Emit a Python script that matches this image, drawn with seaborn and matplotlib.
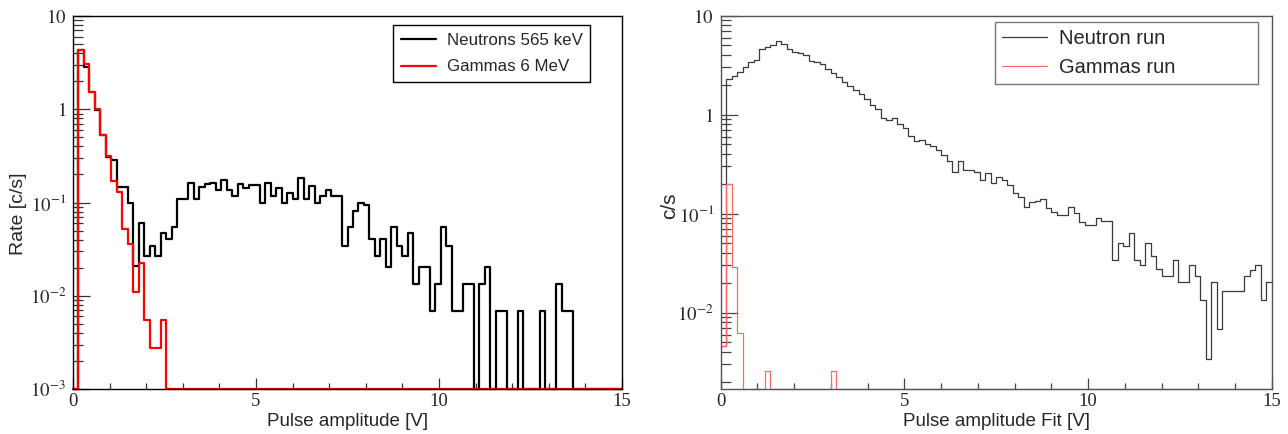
import numpy as np
import matplotlib
matplotlib.use("Agg")
import matplotlib.pyplot as plt
import seaborn as sns
from matplotlib.ticker import MultipleLocator, LogLocator, NullFormatter, FuncFormatter

# ---------------- data (rates per 0.15 V bin, 0 .. 15 V) ----------------
BIN_WIDTH = 0.15

left_neutrons = [
    0, 4.33, 2.87, 1.52, 0.98, 0.53, 0.307, 0.287, 0.148, 0.148,
    0.1, 0.0206, 0.061, 0.0268, 0.0344, 0.0268, 0.0476, 0.0405, 0.0545, 0.109,
    0.109, 0.161, 0.109, 0.148, 0.157, 0.161, 0.137, 0.175, 0.137, 0.116,
    0.157, 0.143, 0.155, 0.155, 0.1, 0.161, 0.116, 0.143, 0.1, 0.128,
    0.109, 0.182, 0.109, 0.151, 0.1, 0.116, 0.137, 0.116, 0.116, 0.0338,
    0.0545, 0.082, 0.1, 0.0945, 0.0405, 0.0268, 0.0405, 0.0203, 0.0545, 0.0338,
    0.0268, 0.0469, 0.0134, 0.0203, 0.0203, 0.0068, 0.0134, 0.0545, 0.0338, 0.0068,
    0.0068, 0.0134, 0.0134, 0, 0.0134, 0.0203, 0, 0.0068, 0.0068, 0,
    0, 0.0068, 0, 0, 0, 0.0068, 0, 0, 0.0134, 0.0068,
    0.0068, 0, 0, 0, 0, 0, 0, 0, 0, 0,
]
left_gammas = [
    0, 4.33, 3.04, 1.52, 1.01, 0.53, 0.316, 0.171, 0.131, 0.0519,
    0.0358, 0.0111, 0.0222, 0.00553, 0.00275, 0.00275, 0.00553, 0, 0, 0,
    0, 0, 0, 0, 0, 0, 0, 0, 0, 0,
    0, 0, 0, 0, 0, 0, 0, 0, 0, 0,
    0, 0, 0, 0, 0, 0, 0, 0, 0, 0,
    0, 0, 0, 0, 0, 0, 0, 0, 0, 0,
    0, 0, 0, 0, 0, 0, 0, 0, 0, 0,
    0, 0, 0, 0, 0, 0, 0, 0, 0, 0,
    0, 0, 0, 0, 0, 0, 0, 0, 0, 0,
    0, 0, 0, 0, 0, 0, 0, 0, 0, 0,
]
right_neutron = [
    0.0046, 2.28, 2.44, 2.70, 3.03, 3.40, 3.59, 4.64, 4.82, 5.01,
    5.54, 5.21, 4.64, 4.30, 4.20, 3.97, 3.48, 3.40, 3.23, 2.92,
    2.64, 2.40, 2.14, 1.93, 1.79, 1.63, 1.45, 1.24, 1.15, 0.915,
    0.893, 0.936, 0.813, 0.741, 0.606, 0.543, 0.552, 0.503, 0.480, 0.444,
    0.389, 0.341, 0.264, 0.341, 0.275, 0.279, 0.264, 0.221, 0.258, 0.202,
    0.232, 0.221, 0.194, 0.160, 0.148, 0.116, 0.132, 0.135, 0.142, 0.113,
    0.104, 0.0966, 0.0966, 0.117, 0.102, 0.0827, 0.0766, 0.0766, 0.0907, 0.0843,
    0.0843, 0.034, 0.050, 0.047, 0.064, 0.034, 0.0303, 0.050, 0.0373, 0.0274,
    0.0236, 0.0236, 0.034, 0.0202, 0.0202, 0.0303, 0.0236, 0.0134, 0.00338, 0.0202,
    0.00678, 0.0166, 0.0166, 0.0166, 0.0166, 0.0236, 0.0269, 0.0303, 0.0134, 0.0202,
]
right_gammas = [
    0.0046, 0.199, 0.029, 0.00618, 0, 0, 0, 0, 0.00258, 0,
    0, 0, 0, 0, 0, 0, 0, 0, 0, 0,
    0.00258, 0, 0, 0, 0, 0, 0, 0, 0, 0,
    0, 0, 0, 0, 0, 0, 0, 0, 0, 0,
    0, 0, 0, 0, 0, 0, 0, 0, 0, 0,
    0, 0, 0, 0, 0, 0, 0, 0, 0, 0,
    0, 0, 0, 0, 0, 0, 0, 0, 0, 0,
    0, 0, 0, 0, 0, 0, 0, 0, 0, 0,
    0, 0, 0, 0, 0, 0, 0, 0, 0, 0,
    0, 0, 0, 0, 0, 0, 0, 0, 0, 0,
]

left_labels = ["Neutrons 565 keV", "Gammas 6 MeV"]
right_labels = ["Neutron run", "Gammas run"]
x_title_left = "Pulse amplitude [V]"
x_title_right = "Pulse amplitude Fit [V]"
y_title_left = "Rate [c/s]"
y_title_right = "c/s"

LEFT_YLIM = (1e-3, 10)
RIGHT_YLIM = (0.00169, 10)

# ---------------- style ----------------
sns.set_theme(style="ticks")
plt.rcParams["font.family"] = ["Liberation Sans", "DejaVu Sans"]
plt.rcParams["mathtext.fontset"] = "stix"
plt.rcParams["axes.linewidth"] = 1.0


def draw_hist(ax, values, color, lw, floor, label):
    vals = np.asarray(values, dtype=float)
    shown = np.where(vals > 0, vals, floor)
    edges = np.arange(len(vals) + 1) * BIN_WIDTH
    y = np.append(shown, shown[-1])
    sns.lineplot(x=edges, y=y, ax=ax, color=color, lw=lw,
                 drawstyle="steps-post", estimator=None, sort=False,
                 label=label, clip_on=False)


def log_label(v, pos):
    e = int(round(np.log10(v)))
    if e == 0:
        return r"$1$"
    if e == 1:
        return r"$10$"
    return r"$10^{%d}$" % e


def style_axes(ax, ylim, spine_color, tick_color):
    ax.set_xlim(0, 15)
    ax.set_ylim(*ylim)
    ax.xaxis.set_major_locator(MultipleLocator(5))
    ax.xaxis.set_minor_locator(MultipleLocator(1))
    ax.yaxis.set_major_locator(LogLocator(base=10, numticks=10))
    ax.yaxis.set_minor_locator(LogLocator(base=10, subs=np.arange(2, 10), numticks=40))
    ax.yaxis.set_minor_formatter(NullFormatter())
    ax.yaxis.set_major_formatter(FuncFormatter(log_label))
    ax.tick_params(which="both", direction="in", top=False, right=False,
                   color=tick_color, width=0.9, labelsize=13.5,
                   labelfontfamily="Liberation Serif")
    ax.tick_params(axis="y", which="major", length=12.5, pad=5)
    ax.tick_params(axis="y", which="minor", length=7)
    ax.tick_params(axis="x", which="major", length=8, pad=3)
    ax.tick_params(axis="x", which="minor", length=4.5)
    for s in ax.spines.values():
        s.set_visible(True)
        s.set_color(spine_color)
    ax.set_facecolor("white")


fig = plt.figure(figsize=(12.88, 4.34), dpi=100)
fig.patch.set_facecolor("white")
axL = fig.add_axes([73 / 1288, 1 - 389 / 434, 549 / 1288, 373 / 434])
axR = fig.add_axes([720.7 / 1288, 1 - 389 / 434, 551.3 / 1288, 373.3 / 434])

# left panel
axL.set_yscale("log")
draw_hist(axL, left_neutrons, "black", 1.6, LEFT_YLIM[0], left_labels[0])
draw_hist(axL, left_gammas, "#ff0000", 1.6, LEFT_YLIM[0], left_labels[1])
style_axes(axL, LEFT_YLIM, "black", "#333333")
axL.set_xlabel(x_title_left, fontsize=13.5, labelpad=2)
axL.set_ylabel(y_title_left, fontsize=14)
axL.yaxis.set_label_coords(-0.083, 0.47)
legL = axL.legend(loc="upper right", bbox_to_anchor=(0.942, 0.976), fontsize=12.2,
                  frameon=True, fancybox=False, shadow=False, framealpha=1,
                  edgecolor="black", handlelength=2.1, handletextpad=0.6,
                  borderpad=0.45, labelspacing=0.7, borderaxespad=0)
legL.get_frame().set_linewidth(1.0)

# right panel
axR.set_yscale("log")
draw_hist(axR, right_neutron, "#3a3a3a", 0.9, RIGHT_YLIM[0], right_labels[0])
draw_hist(axR, right_gammas, "#ff6b6b", 0.9, RIGHT_YLIM[0], right_labels[1])
style_axes(axR, RIGHT_YLIM, "#555555", "#444444")
axR.set_xlabel(x_title_right, fontsize=13.5, labelpad=2)
axR.set_ylabel(y_title_right, fontsize=15)
axR.yaxis.set_label_coords(-0.076, 0.49)
legR = axR.legend(loc="upper left", bbox_to_anchor=(0.498, 0.793, 0.477, 0.19),
                  mode="expand", fontsize=14.5, frameon=True, fancybox=False,
                  shadow=False, framealpha=1, edgecolor="#777777",
                  handlelength=2.2, handletextpad=0.6, borderpad=0.35,
                  labelspacing=0.5, borderaxespad=0)
legR.get_frame().set_linewidth(1.0)

fig.savefig("out.png", dpi=100, facecolor="white")
